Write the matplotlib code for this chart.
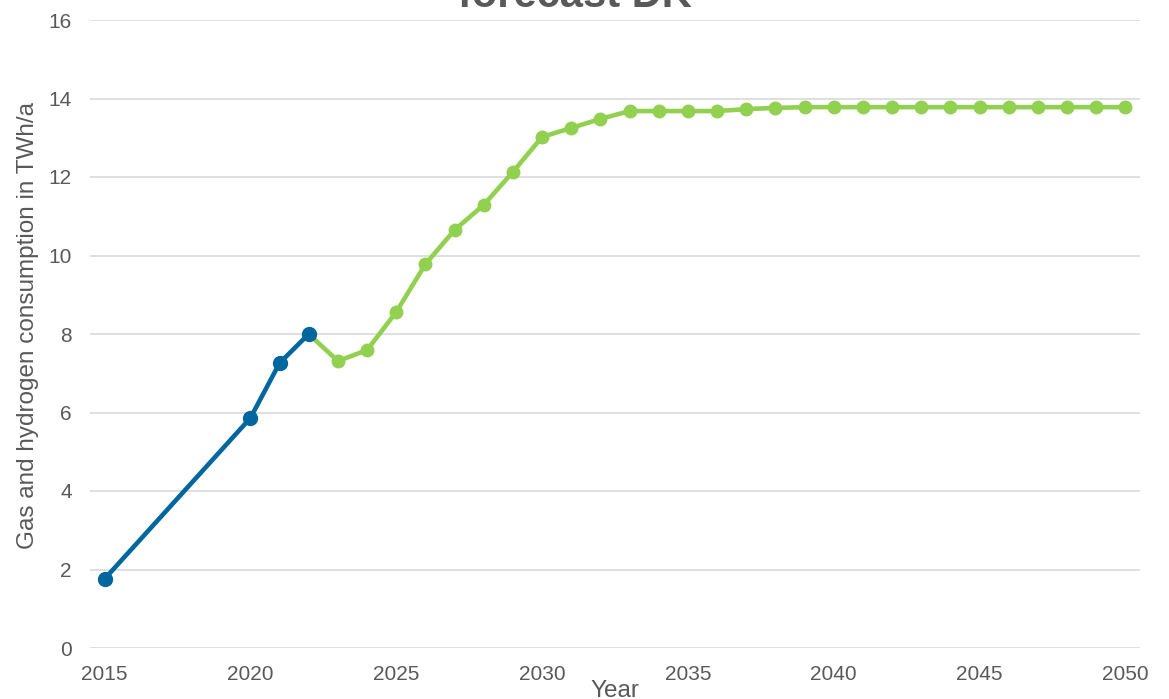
import matplotlib.pyplot as plt

plt.rcParams['font.family'] = ['Liberation Sans', 'DejaVu Sans']

# historical consumption
hist_years = [2015, 2020, 2021, 2022]
hist_vals = [1.76, 5.86, 7.26, 8.0]

# forecast 2022-2050
fc_years = list(range(2022, 2051))
fc_vals = [8.0, 7.31, 7.59, 8.56, 9.78, 10.65, 11.29, 12.13, 13.02, 13.25,
           13.48, 13.68, 13.68, 13.68, 13.68, 13.73, 13.76, 13.78, 13.78, 13.78,
           13.78, 13.78, 13.78, 13.78, 13.78, 13.78, 13.78, 13.78, 13.78]

x_ticks = [2015, 2020, 2025, 2030, 2035, 2040, 2045, 2050]
y_ticks = [0, 2, 4, 6, 8, 10, 12, 14, 16]

txt = '#595959'

fig = plt.figure(figsize=(11.69, 6.99), dpi=100)
ax = fig.add_axes([90 / 1169, 51 / 699, 1050 / 1169, 628 / 699])

ax.plot(fc_years, fc_vals, color='#92D050', lw=3.3, marker='o', ms=9, zorder=3)
ax.plot(hist_years, hist_vals, color='#00679E', lw=3.3, marker='o', ms=10, zorder=4)

ax.set_xlim(2014.5, 2050.5)
ax.set_ylim(0, 16)
ax.set_xticks(x_ticks)
ax.set_yticks(y_ticks)
ax.tick_params(length=0, labelsize=15, colors=txt)
ax.tick_params(axis='x', pad=12)
ax.tick_params(axis='y', pad=13)
ax.grid(axis='y', color='#D9D9D9', lw=1.2)
ax.set_axisbelow(True)
for s in ax.spines.values():
    s.set_visible(False)

ax.set_xlabel('Year', fontsize=17.5, color=txt, va='baseline')
ax.xaxis.set_label_coords(0.5, -49 / 628)
ax.set_ylabel('Gas and hydrogen consumption in TWh/a', fontsize=17.5, color=txt, va='center')
ax.yaxis.set_label_coords(-62 / 1050, 0.513)

# title sits partly above the top edge
fig.text(575 / 1169, 1 - 7 / 699, 'forecast DK', fontsize=30, fontweight='bold',
         color=txt, ha='center', va='baseline')

fig.savefig('out.png', dpi=100)
